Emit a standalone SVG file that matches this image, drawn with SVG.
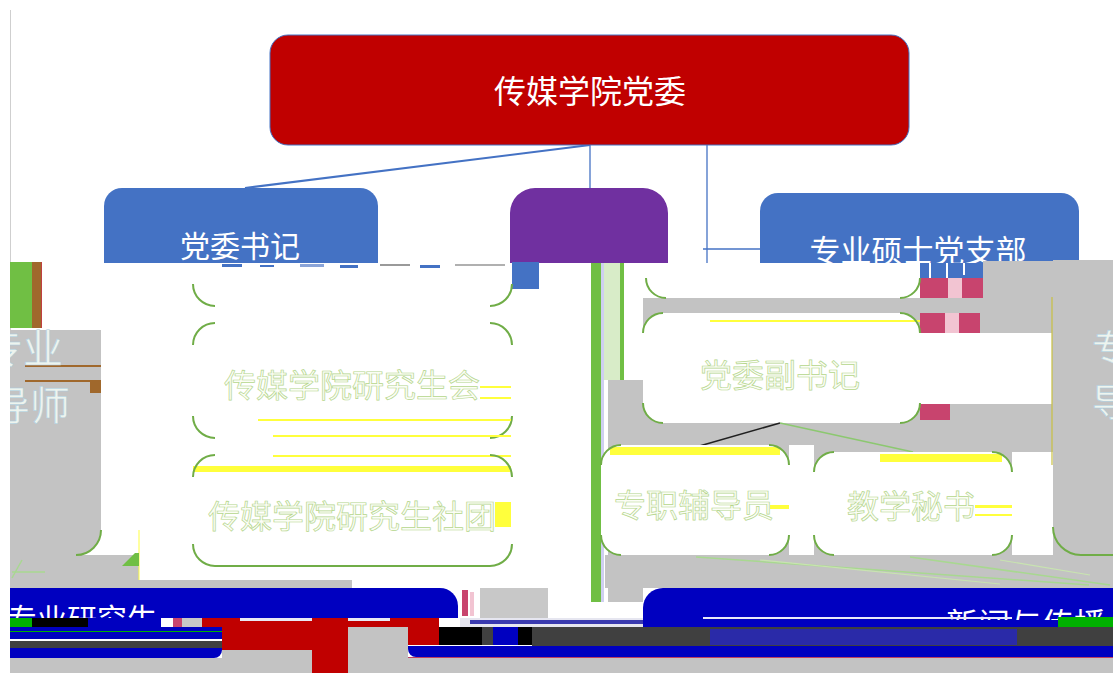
<svg xmlns="http://www.w3.org/2000/svg" width="1113" height="673" viewBox="0 0 1113 673">
<defs>
<style>
.t{font-family:"Noto Sans CJK SC","Noto Sans CJK JP",sans-serif;text-anchor:middle;}
.s{font-family:"Noto Sans CJK SC","Noto Sans CJK JP",sans-serif;text-anchor:start;}
.w{fill:#ffffff;}
.p{fill:#fbfdf6;stroke:#b5d68c;stroke-width:0.7;}
.pg{fill:#eef4ee;stroke:#a8cce0;stroke-width:0.5;}
.g{fill:#c3c3c3;}
.cn{fill:none;stroke:#70AD47;stroke-width:2;}
.y{fill:#ffff3c;}
.conn{stroke:#4472C4;fill:none;}
.pk{fill:#c8446e;}
.lp{fill:#f2c4d2;}
</style>
<clipPath id="ctop"><rect x="0" y="0" width="1113" height="263"/></clipPath>
<clipPath id="cl"><rect x="10" y="0" width="1103" height="673"/></clipPath>
<clipPath id="cb1"><rect x="10" y="588" width="448" height="30"/></clipPath>
<clipPath id="cb2"><rect x="643" y="588" width="470" height="32"/></clipPath>
</defs>

<rect x="0" y="0" width="1113" height="673" fill="#ffffff"/>
<line x1="10.5" y1="10" x2="10.5" y2="673" stroke="#cfcfcf" stroke-width="1"/>

<g id="connectors">
<line class="conn" x1="590" y1="145" x2="245" y2="188" stroke-width="2"/>
<line class="conn" x1="590" y1="145" x2="590" y2="188" stroke-width="1.3"/>
<line class="conn" x1="707" y1="145" x2="707" y2="268" stroke-width="1.3"/>
<line class="conn" x1="703" y1="249" x2="760" y2="249" stroke-width="1.3"/>
</g>

<g id="node-committee">
<rect x="270" y="35" width="639" height="110" rx="18" fill="#C00000" stroke="#4472C4" stroke-width="1"/>
<text class="t w" x="590" y="103" font-size="32">传媒学院党委</text>
</g>

<g id="node-secretary" clip-path="url(#ctop)">
<path d="M104,300 V206 A18,18 0 0 1 122,188 H360 A18,18 0 0 1 378,206 V300 Z" fill="#4472C4"/>
<text class="t w" x="240" y="257" font-size="30">党委书记</text>
</g>

<g id="node-purple">
<path d="M510,263 V213 A25,25 0 0 1 535,188 H643 A25,25 0 0 1 668,213 V267 H646 V263 Z" fill="#7030A0"/>
</g>

<g id="node-branch">
<g clip-path="url(#ctop)">
<path d="M760,300 V211 A18,18 0 0 1 778,193 H1061 A18,18 0 0 1 1079,211 V300 Z" fill="#4472C4"/>
<text class="t w" x="918" y="262" font-size="31">专业硕士党支部</text>
</g>
<rect x="920" y="263" width="63" height="15" fill="#4472C4"/>
<rect x="929" y="263" width="2" height="15" fill="#ffffff"/>
<rect x="946" y="263" width="2" height="15" fill="#ffffff"/>
<rect x="963" y="263" width="2" height="12" fill="#ffffff"/>
</g>

<g id="glitch-left">
<rect x="10" y="262" width="22" height="66" fill="#70BF44"/>
<rect x="32" y="262" width="9" height="66" fill="#A0682C"/>
<rect x="41" y="262" width="1" height="66" fill="#c04040"/>
<rect x="10" y="555" width="129" height="25" class="g"/>
<rect x="10" y="580" width="342" height="8" class="g"/>
<line x1="139" y1="530" x2="139" y2="580" stroke="#ffff40" stroke-width="1"/>
<path d="M122,566 L135,553 L139,553 L139,566 Z" fill="#70BF44"/>
<line x1="12" y1="578" x2="22" y2="560" stroke="#a8d890" stroke-width="1.5"/>
<line x1="12" y1="572" x2="45" y2="572" stroke="#a8d890" stroke-width="1.5"/>
</g>

<g id="node-mentor-left">
<path d="M10,330 H101 V530 A25,25 0 0 1 76,555 H10 Z" class="g"/>
<path d="M101,530 A25,25 0 0 1 76,555" class="cn"/>
<rect x="25" y="365" width="76" height="2" fill="#A0682C"/>
<rect x="25" y="380" width="76" height="2" fill="#A0682C"/>
<rect x="90" y="380" width="11" height="13" fill="#A0682C"/>
<g clip-path="url(#cl)">
<text class="s pg" x="-17" y="363" font-size="40">专业</text>
<text class="s pg" x="-10" y="420" font-size="40">导师</text>
</g>
</g>

<g id="glitch-top-strip">
<rect x="222" y="264" width="20" height="3" fill="#4472C4"/>
<rect x="260" y="265" width="14" height="2" fill="#4472C4"/>
<rect x="300" y="264" width="24" height="3" fill="#8aa4d8"/>
<rect x="340" y="265" width="18" height="3" fill="#4472C4"/>
<rect x="380" y="264" width="30" height="2" fill="#9a9a9a"/>
<rect x="420" y="265" width="20" height="3" fill="#4472C4"/>
<rect x="455" y="264" width="50" height="2" fill="#b0b0b0"/>
<rect x="512" y="262" width="27" height="27" fill="#4472C4"/>
</g>

<g id="node-union">
<path d="M193,284 A22,22 0 0 0 215,306" class="cn"/>
<path d="M512,284 A22,22 0 0 1 490,306" class="cn"/>
<path d="M193,345 A22,22 0 0 1 215,323" class="cn"/>
<path d="M490,323 A22,22 0 0 1 512,345" class="cn"/>
<path d="M193,416 A22,22 0 0 0 215,438" class="cn"/>
<path d="M512,416 A22,22 0 0 1 490,438" class="cn"/>
<text class="t p" x="352" y="397" font-size="32">传媒学院研究生会</text>
<rect x="480" y="386" width="31" height="2" class="y"/>
<rect x="480" y="397" width="31" height="2" class="y"/>
<rect x="258" y="419" width="253" height="2" class="y"/>
<rect x="273" y="435" width="238" height="2" class="y"/>
<rect x="273" y="455" width="238" height="2" class="y"/>
</g>

<g id="node-clubs">
<rect x="193" y="466" width="318" height="6" class="y"/>
<path d="M193,477 A22,22 0 0 1 215,455" class="cn"/>
<path d="M490,455 A22,22 0 0 1 512,477" class="cn"/>
<path d="M193,544 A22,22 0 0 0 215,566 H490 A22,22 0 0 0 512,544" class="cn"/>
<rect x="495" y="502" width="16" height="25" class="y"/>
<text class="t p" x="352" y="528" font-size="32">传媒学院研究生社团</text>
</g>

<g id="glitch-right">
<rect x="591" y="263" width="10" height="339" fill="#70BF44"/>
<rect x="601" y="263" width="3" height="339" fill="#cfd0f0"/>
<rect x="604" y="263" width="16" height="117" fill="#d8ecc8"/>
<rect x="620" y="263" width="4" height="117" fill="#70BF44"/>
<rect x="608" y="380" width="35" height="222" class="g"/>
<rect x="643" y="298" width="470" height="290" class="g"/>
<rect x="605" y="555" width="508" height="33" class="g"/>
<rect x="983" y="261" width="130" height="37" class="g"/>
<rect x="920" y="278" width="63" height="20" class="pk"/>
<rect x="948" y="278" width="14" height="20" class="lp"/>
<rect x="920" y="313" width="60" height="20" class="pk"/>
<rect x="945" y="313" width="14" height="20" class="lp"/>
<rect x="920" y="333" width="132" height="71" fill="#ffffff"/>
<rect x="920" y="404" width="30" height="16" class="pk"/>
<rect x="789" y="445" width="25" height="110" fill="#ffffff"/>
<rect x="1012" y="452" width="41" height="103" fill="#ffffff"/>
<line x1="1052" y1="297" x2="1052" y2="465" stroke="#c8c040" stroke-width="1.2"/>
<line x1="696" y1="557" x2="1089" y2="585" stroke="#a8d890" stroke-width="1.5"/>
<line x1="760" y1="560" x2="1000" y2="584" stroke="#c8e4b0" stroke-width="1.2"/>
<line x1="910" y1="557" x2="1110" y2="585" stroke="#a8d890" stroke-width="1.5"/>
<line x1="1000" y1="560" x2="1090" y2="575" stroke="#c8e4b0" stroke-width="1.2"/>
</g>

<g id="node-upper-box">
<path d="M646,263 V278 A20,20 0 0 0 666,298 H900 A20,20 0 0 0 920,278 V263 Z" fill="#ffffff"/>
<path d="M646,278 A20,20 0 0 0 666,298" class="cn"/>
<path d="M920,278 A20,20 0 0 1 900,298" class="cn"/>
</g>

<g id="node-deputy">
<rect x="643" y="313" width="277" height="110" rx="20" fill="#ffffff"/>
<rect x="710" y="320" width="210" height="2" class="y"/>
<path d="M643,333 A20,20 0 0 1 663,313" class="cn"/>
<path d="M900,313 A20,20 0 0 1 920,333" class="cn"/>
<path d="M643,403 A20,20 0 0 0 663,423" class="cn"/>
<path d="M920,403 A20,20 0 0 1 900,423" class="cn"/>
<text class="t p" x="780" y="387" font-size="32">党委副书记</text>
</g>

<g id="connectors-lower">
<line x1="696" y1="447" x2="780" y2="423" stroke="#202020" stroke-width="1.5"/>
<line x1="780" y1="423" x2="913" y2="452" stroke="#8cc870" stroke-width="1.5"/>
</g>

<g id="node-counselor">
<rect x="601" y="445" width="188" height="110" rx="20" fill="#ffffff"/>
<rect x="610" y="447" width="170" height="8" class="y"/>
<path d="M601,465 A20,20 0 0 1 621,445" class="cn"/>
<path d="M769,445 A20,20 0 0 1 789,465" class="cn"/>
<path d="M601,535 A20,20 0 0 0 621,555" class="cn"/>
<path d="M789,535 A20,20 0 0 1 769,555" class="cn"/>
<text class="t p" x="694" y="517" font-size="32">专职辅导员</text>
<rect x="770" y="505" width="19" height="4" class="y"/>
</g>

<g id="node-academic-secretary">
<rect x="814" y="452" width="198" height="103" rx="20" fill="#ffffff"/>
<rect x="880" y="454" width="122" height="8" class="y"/>
<path d="M814,472 A20,20 0 0 1 834,452" class="cn"/>
<path d="M992,452 A20,20 0 0 1 1012,472" class="cn"/>
<path d="M814,535 A20,20 0 0 0 834,555" class="cn"/>
<path d="M1012,535 A20,20 0 0 1 992,555" class="cn"/>
<text class="t p" x="911" y="518" font-size="32">教学秘书</text>
<rect x="975" y="505" width="37" height="3" class="y"/>
<rect x="975" y="514" width="37" height="2" class="y"/>
</g>

<g id="node-mentor-right">
<path d="M1053,260 H1113 V555 H1081 A28,28 0 0 1 1053,527 Z" class="g"/>
<path d="M1053,527 A28,28 0 0 0 1081,555 H1113" class="cn"/>
<text class="s pg" x="1092" y="362" font-size="38">专业</text>
<text class="s pg" x="1092" y="416" font-size="38">导师</text>
</g>

<g id="glitch-bottom">
<rect x="480" y="588" width="68" height="30" fill="#c8c8c8"/>
<rect x="462" y="590" width="6" height="26" class="pk"/>
<rect x="470" y="592" width="4" height="24" class="lp"/>
<rect x="10" y="618" width="22" height="10" fill="#00B000"/>
<rect x="32" y="618" width="56" height="10" fill="#000000"/>
<rect x="88" y="618" width="73" height="10" fill="#0000C0"/>
<rect x="173" y="618" width="9" height="10" fill="#c8446e"/>
<rect x="182" y="618" width="20" height="10" fill="#c8c8c8"/>
<rect x="202" y="618" width="237" height="9" fill="#C00000"/>
<rect x="240" y="618" width="150" height="3" fill="#e8e8f4"/>
<rect x="10" y="627" width="212" height="12" fill="#0000C0"/>
<rect x="10" y="631" width="212" height="1" fill="#00B000"/>
<rect x="10" y="639" width="212" height="2" fill="#ffffff"/>
<rect x="10" y="641" width="212" height="7" fill="#404040"/>
<path d="M10,648 H222 V650 A8,8 0 0 1 214,658 H10 Z" fill="#0000C0"/>
<rect x="10" y="658" width="212" height="15" class="g"/>
<rect x="222" y="627" width="90" height="23" fill="#C00000"/>
<rect x="222" y="650" width="90" height="23" class="g"/>
<rect x="312" y="618" width="36" height="55" fill="#C00000"/>
<rect x="348" y="627" width="60" height="46" class="g"/>
<rect x="408" y="627" width="31" height="18" fill="#C00000"/>
<rect x="439" y="627" width="43" height="18" fill="#000000"/>
<rect x="482" y="627" width="11" height="18" fill="#404040"/>
<rect x="493" y="627" width="25" height="18" fill="#0000C0"/>
<rect x="518" y="627" width="14" height="18" fill="#000000"/>
<rect x="532" y="627" width="581" height="20" fill="#404040"/>
<rect x="710" y="629" width="307" height="16" fill="#2a2aa8"/>
<rect x="460" y="618" width="250" height="9" fill="#e6e6f0"/>
<rect x="470" y="620" width="230" height="4" fill="#3a3ab0"/>
<path d="M408,646 H1113 V657 H416 A8,8 0 0 1 408,649 Z" fill="#0000C0"/>
<rect x="408" y="657" width="705" height="1" fill="#c04060"/>
<rect x="408" y="658" width="705" height="15" class="g"/>
</g>

<g id="node-bar-left">
<path d="M10,588 H440 A18,18 0 0 1 458,606 V618 H10 Z" fill="#0000C0"/>
<g clip-path="url(#cb1)">
<text class="s w" x="7" y="630" font-size="30">专业研究生</text>
</g>
</g>

<g id="node-bar-right">
<path d="M663,588 H1113 V627 H643 V608 A20,20 0 0 1 663,588 Z" fill="#0000C0"/>
<g clip-path="url(#cb2)">
<text class="s w" x="946" y="636" font-size="32">新闻与传播</text>
</g>
<rect x="703" y="617" width="309" height="2" fill="#e8e8f8"/>
<rect x="1058" y="617" width="55" height="10" fill="#00B000"/>
</g>
</svg>
